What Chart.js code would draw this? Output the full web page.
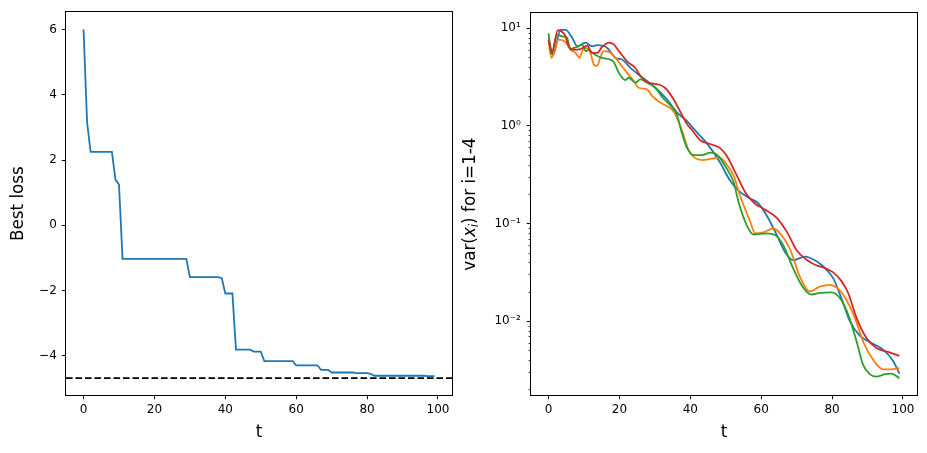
<!DOCTYPE html>
<html><head><meta charset="utf-8">
<script src="https://cdn.jsdelivr.net/npm/chart.js@4/dist/chart.umd.min.js"></script>
<style>
html,body{margin:0;padding:0;background:#fff;width:927px;height:453px;overflow:hidden;}
.box{position:absolute;top:0;height:453px;}
#b1{left:0;width:460px;}
#b2{left:460px;width:467px;}
</style></head><body>
<div class="box" id="b1"><canvas id="c1"></canvas></div>
<div class="box" id="b2"><canvas id="c2"></canvas></div>
<script>
// ---------- data ----------
const bestLoss = [6.0,3.15,2.25,2.25,2.25,2.25,2.25,2.25,2.25,1.4,
  1.25,-1.03,-1.03,-1.03,-1.03,-1.03,-1.03,-1.03,-1.03,-1.03,
  -1.03,-1.03,-1.03,-1.03,-1.03,-1.03,-1.03,-1.03,-1.03,-1.03,
  -1.59,-1.59,-1.59,-1.59,-1.59,-1.59,-1.59,-1.59,-1.59,-1.62,
  -2.09,-2.09,-2.09,-3.81,-3.81,-3.81,-3.81,-3.81,-3.87,-3.87,
  -3.87,-4.16,-4.16,-4.16,-4.16,-4.16,-4.16,-4.16,-4.16,-4.16,
  -4.29,-4.29,-4.29,-4.29,-4.29,-4.29,-4.29,-4.43,-4.43,-4.43,
  -4.51,-4.51,-4.51,-4.51,-4.51,-4.51,-4.51,-4.53,-4.53,-4.53,
  -4.53,-4.55,-4.61,-4.61,-4.61,-4.61,-4.61,-4.61,-4.61,-4.61,
  -4.61,-4.61,-4.61,-4.61,-4.61,-4.61,-4.61,-4.62,-4.62,-4.62];
const optimumLoss = -4.68;

const tBlue = [0,1.3,3.4,4.8,6.7,8.1,10.4,12.3,13.7,16.5,18.9,20.7,23.1,25.9,29.6,33.4,36.2,39,41.8,44.7,48.4,51.2,54,56.9,59.2,61.5,64.4,66.7,69,72.3,75.6,78,80.3,82.8,85,87.8,91,94.4,97.2,99];
const varBlue = [7.9,5.3,9.6,9.6,7.9,6.5,7.1,6.5,6.7,6.3,4.95,4.76,3.92,3.23,2.55,1.86,1.37,1.12,0.86,0.66,0.42,0.275,0.21,0.18,0.16,0.121,0.076,0.051,0.042,0.0457,0.041,0.0348,0.0275,0.0165,0.01,0.0071,0.006,0.0051,0.0039,0.0029];

const tOrange = [0,0.8,2.9,4.8,6.2,7.6,8.8,9.5,10.4,11.8,12.8,13.7,14.6,15.6,17,18.9,20.3,22.1,24,25.4,27.8,29.2,31.5,33.9,35.3,36.7,38.1,39.5,41.4,43.3,46.1,48.2,50.3,52.2,54,56.9,58.3,60.6,63.4,65.3,68.1,70.9,73.7,76.5,79.2,81.7,83.8,86.4,88.9,91.8,94.4,96.7,99];
const varOrange = [7.3,4.95,7.6,7.2,6.0,5.57,4.95,5.8,6.26,5.57,4.23,4.1,5.0,5.8,5.7,4.95,4.23,3.5,2.9,2.45,2.36,2.02,1.73,1.55,1.4,1.1,0.8,0.56,0.466,0.445,0.46,0.475,0.4,0.31,0.194,0.104,0.079,0.081,0.0887,0.079,0.055,0.0285,0.0201,0.0225,0.0235,0.0215,0.017,0.0108,0.006,0.0039,0.0032,0.0032,0.0033];

const tGreen = [0,0.8,2.4,4,5.2,6.2,7.1,8.5,9.5,10.5,11.3,12.3,13.7,15.1,16.5,18.4,19.8,21.7,22.6,24.5,25.9,27.8,30.1,32.4,34.8,36.2,37.5,39,40.9,43.3,45.6,47.5,49.8,52.2,53.6,55.9,57.8,61.5,63.9,66.2,69,71.9,74.2,76.6,79.8,82.2,84.5,86.9,88.7,90.6,92.5,94.9,96.7,99];
const varGreen = [8.8,5.4,8.55,8.2,8.0,6.0,6.26,6.5,6.77,5.8,6.0,5.6,5.2,4.95,4.85,4.5,3.5,2.94,3.1,2.76,2.98,2.76,2.45,1.9,1.56,1.3,0.87,0.6,0.5,0.5,0.53,0.505,0.39,0.265,0.166,0.096,0.077,0.079,0.076,0.06,0.0348,0.0218,0.0187,0.0194,0.0197,0.0172,0.0117,0.0062,0.0036,0.00286,0.0027,0.00286,0.0029,0.0026];

const tRed = [0,1,2.6,3.7,4.6,5.7,7.1,9,10.9,12.3,13.7,15.1,17,18.4,20,22.3,24.5,26,28.2,29.6,31.3,33,35.3,37.4,39,40.5,42.8,45.6,48.4,50.3,53.1,55.6,58.2,61,64.4,67.4,70,72.8,75.3,77.5,80.3,82.7,84.5,86.9,89.7,92.5,96,99];
const varRed = [7.5,5.57,9.5,9.2,8.5,6.5,6.0,6.1,6.6,5.57,5.57,6.4,7.1,6.8,5.7,4.5,3.9,3.2,2.75,2.7,2.63,2.42,1.86,1.34,1.05,0.9,0.71,0.65,0.59,0.49,0.31,0.205,0.16,0.139,0.114,0.08,0.053,0.0425,0.0375,0.0355,0.0315,0.0255,0.0195,0.0108,0.0067,0.0053,0.0048,0.0044];

const xTicks = [0,20,40,60,80,100];
const lossTicks = [-4,-2,0,2,4,6];
const logMajor = [0.01,0.1,1,10];
const logLabels = {0.01:'10\u207B\u00B2',0.1:'10\u207B\u00B9',1:'10\u2070',10:'10\u00B9'};

// ---------- setup ----------
Chart.defaults.font.family = "'DejaVu Sans', sans-serif";
Chart.defaults.color = '#000';
Chart.defaults.animation = false;
const TICKFONT = {size: 12};
const TITLEFONT = {size: 16.8};
const XMIN = -4.95, XMAX = 103.95;

const frame = {
  id: 'frame',
  afterDatasetsDraw(chart) {
    const a = chart.chartArea, ctx = chart.ctx;
    ctx.save(); ctx.strokeStyle = '#000'; ctx.lineWidth = 1;
    ctx.strokeRect(Math.round(a.left) - 0.5, Math.round(a.top) - 0.5, Math.round(a.right - a.left) + 1, Math.round(a.bottom - a.top) + 1);
    ctx.restore();
  }
};

function xAxis(){
  return {
    type: 'linear', min: XMIN, max: XMAX,
    afterBuildTicks: s => { s.ticks = xTicks.map(v => ({value: v})); },
    afterFit: s => { s.height = 58; },
    ticks: {font: TICKFONT, padding: 3, maxRotation: 0, autoSkip: false, callback: v => String(v)},
    grid: {display: true, drawOnChartArea: false, drawTicks: true, tickLength: 4.2, tickColor: '#000', tickWidth: 1},
    border: {display: false},
    title: {display: true, text: 't', font: TITLEFONT, padding: {top: 0, bottom: 10}}
  };
}

// ---------- left chart ----------
new Chart(document.getElementById('c1'), {
  type: 'line',
  data: {
    datasets: [
      {data: bestLoss.map((v, i) => ({x: i, y: v})), borderColor: '#1f77b4', borderWidth: 1.8, pointRadius: 0, tension: 0, order: 1},
      {data: [{x: XMIN, y: optimumLoss}, {x: XMAX, y: optimumLoss}], borderColor: '#000', borderWidth: 1.8, borderDash: [6.6, 2.9], pointRadius: 0, order: 0}
    ]
  },
  options: {
    responsive: true, maintainAspectRatio: false,
    layout: {padding: {top: 11, right: 8, left: 0, bottom: 0}},
    plugins: {legend: {display: false}, tooltip: {enabled: false}},
    scales: {
      x: xAxis(),
      y: {
        type: 'linear', min: -5.2, max: 6.53,
        afterBuildTicks: s => { s.ticks = lossTicks.map(v => ({value: v})); },
        afterFit: s => { s.width = 66; },
        ticks: {font: TICKFONT, padding: 5, callback: v => (v < 0 ? '\u2212' + Math.abs(v) : String(v))},
        grid: {display: true, drawOnChartArea: false, drawTicks: true, tickLength: 4.2, tickColor: '#000', tickWidth: 1},
        border: {display: false},
        title: {display: true, text: 'Best loss', font: TITLEFONT, padding: {top: 9, bottom: 0}}
      }
    }
  },
  plugins: [frame]
});

// ---------- right chart ----------
const minorTicks = {
  id: 'minorTicks',
  afterDraw(chart) {
    const s = chart.scales.y, ctx = chart.ctx;
    ctx.save(); ctx.strokeStyle = '#000'; ctx.lineWidth = 0.8;
    for (let e = -3; e <= 1; e++) {
      for (let m = 2; m <= 9; m++) {
        const v = m * Math.pow(10, e);
        if (v < s.min || v > s.max) continue;
        const y = Math.round(s.getPixelForValue(v)) + 0.5;
        ctx.beginPath(); ctx.moveTo(s.right, y); ctx.lineTo(s.right - 2.4, y); ctx.stroke();
      }
    }
    ctx.restore();
  }
};
const yTitle = {
  id: 'yTitle',
  afterDraw(chart) {
    const a = chart.chartArea, ctx = chart.ctx;
    const fs = 16.8, fam = "'DejaVu Sans', sans-serif";
    const parts = [
      {t: 'var(', f: fs + 'px ' + fam, dy: 0},
      {t: 'x', f: 'italic ' + fs + 'px ' + fam, dy: 0},
      {t: 'i', f: 'italic ' + (fs * 0.7).toFixed(1) + 'px ' + fam, dy: 3.5},
      {t: ') for i=1-4', f: fs + 'px ' + fam, dy: 0}
    ];
    ctx.save();
    let total = 0;
    parts.forEach(p => { ctx.font = p.f; p.w = ctx.measureText(p.t).width; total += p.w; });
    ctx.translate(14.5, (a.top + a.bottom) / 2);
    ctx.rotate(-Math.PI / 2);
    ctx.fillStyle = '#000'; ctx.textBaseline = 'alphabetic'; ctx.textAlign = 'left';
    let x = -total / 2;
    parts.forEach(p => { ctx.font = p.f; ctx.fillText(p.t, x, p.dy); x += p.w; });
    ctx.restore();
  }
};

function series(ts, vs, color, order) {
  return {data: ts.map((t, i) => ({x: t, y: vs[i]})), borderColor: color, borderWidth: 1.8,
    pointRadius: 0, cubicInterpolationMode: 'monotone', order: order};
}

new Chart(document.getElementById('c2'), {
  type: 'line',
  data: {
    datasets: [
      series(tBlue, varBlue, '#1f77b4', 3),
      series(tOrange, varOrange, '#ff7f0e', 2),
      series(tGreen, varGreen, '#2ca02c', 1),
      series(tRed, varRed, '#d62728', 0)
    ]
  },
  options: {
    responsive: true, maintainAspectRatio: false,
    layout: {padding: {top: 11, right: 10, left: 0, bottom: 0}},
    plugins: {legend: {display: false}, tooltip: {enabled: false}},
    scales: {
      x: xAxis(),
      y: {
        type: 'logarithmic', min: 0.00175, max: 14.2,
        afterBuildTicks: s => { s.ticks = logMajor.map(v => ({value: v})); },
        afterFit: s => { s.width = 71; },
        ticks: {font: TICKFONT, padding: 6, callback: v => logLabels[v] || ''},
        grid: {display: true, drawOnChartArea: false, drawTicks: true, tickLength: 4.2, tickColor: '#000', tickWidth: 1},
        border: {display: false},
        title: {display: false}
      }
    }
  },
  plugins: [frame, minorTicks, yTitle]
});
</script>
</body></html>
